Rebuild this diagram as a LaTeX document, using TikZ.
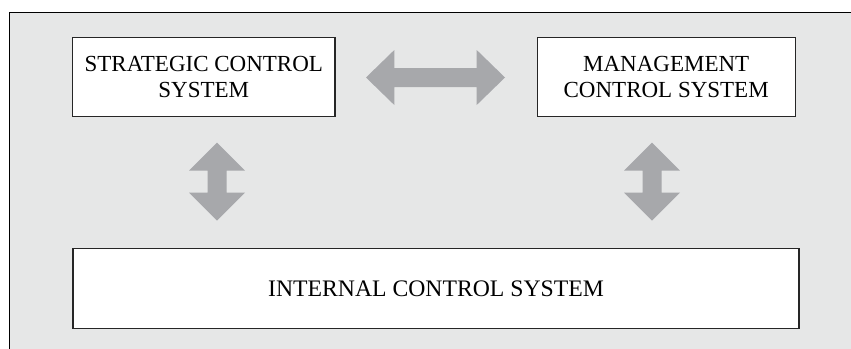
\documentclass[tikz,border=0pt]{standalone}
\usepackage{fontspec}
\setmainfont{Liberation Serif}
\definecolor{bggray}{HTML}{E6E7E7}
\definecolor{arrowgray}{HTML}{A7A8AB}
\begin{document}
\begin{tikzpicture}[x=1pt,y=-1pt,
  sysbox/.style={draw=black!85,line width=1.1pt,fill=white,inner sep=0pt,
    font=\fontsize{23}{26}\selectfont,align=center},
  blockarrow/.style={fill=arrowgray,draw=none}]
\useasboundingbox (0,0) rectangle (851,348);
% background panel
\fill[bggray] (9.5,12.3) rectangle (860,360);
\draw[line width=1pt] (9.5,360) -- (9.5,12.3) -- (860,12.3);
% boxes
\node[sysbox,minimum width=262.3pt,minimum height=79.4pt] (scs) at (203.8,77) {STRATEGIC CONTROL\\SYSTEM};
\node[sysbox,minimum width=257.7pt,minimum height=79.4pt] (mcs) at (666.2,77) {MANAGEMENT\\CONTROL SYSTEM};
\node[sysbox,minimum width=726pt,minimum height=79.5pt,font=\fontsize{23.7}{26}\selectfont] (ics) at (436,288.6) {INTERNAL CONTROL SYSTEM};
% horizontal double arrow
\fill[blockarrow] (366,77.5) -- (394.3,50) -- (394.3,68) -- (476.7,68) -- (476.7,50)
  -- (505,77.5) -- (476.7,105) -- (476.7,87) -- (394.3,87) -- (394.3,105) -- cycle;
% left vertical double arrow
\fill[blockarrow] (217,142.7) -- (245,170.7) -- (226.5,170.7) -- (226.5,192.7) -- (245,192.7)
  -- (217,220.7) -- (189,192.7) -- (207.5,192.7) -- (207.5,170.7) -- (189,170.7) -- cycle;
% right vertical double arrow
\fill[blockarrow] (652,142.7) -- (680,170.7) -- (661.5,170.7) -- (661.5,192.7) -- (680,192.7)
  -- (652,220.7) -- (624,192.7) -- (642.5,192.7) -- (642.5,170.7) -- (624,170.7) -- cycle;
\end{tikzpicture}
\end{document}
